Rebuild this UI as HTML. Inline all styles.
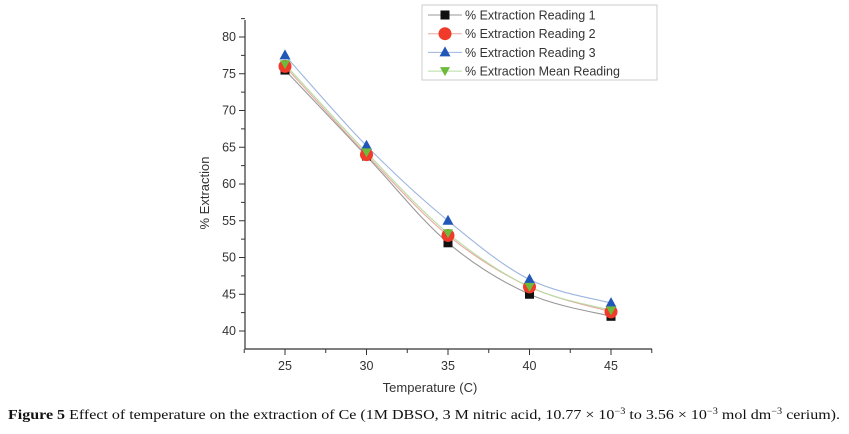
<!DOCTYPE html>
<html><head><meta charset="utf-8"><style>
body{margin:0;background:#fff;width:849px;height:434px;overflow:hidden}
svg{display:block}
</style></head><body>
<svg id="chart" width="849" height="434" font-family="Liberation Sans, sans-serif">
<g id="axes"></g><g id="series"></g><g id="legend"></g>
<text x="430" y="392" font-size="13" text-anchor="middle" fill="#333">Temperature (C)</text>
<text x="0" y="0" font-size="13" text-anchor="middle" fill="#333" transform="translate(209,193) rotate(-90)">% Extraction</text>
<text x="8" y="419" font-size="14" font-family="Liberation Serif, serif" fill="#111" textLength="832" lengthAdjust="spacingAndGlyphs"><tspan font-weight="bold">Figure 5</tspan> Effect of temperature on the extraction of Ce (1M DBSO, 3 M nitric acid, 10.77 × 10<tspan font-size="9" dy="-5">−3</tspan><tspan dy="5"> to 3.56 × 10</tspan><tspan font-size="9" dy="-5">−3</tspan><tspan dy="5"> mol dm</tspan><tspan font-size="9" dy="-5">−3</tspan><tspan dy="5"> cerium).</tspan></text>
</svg>
<script>
const temps=[25,30,35,40,45];
const reading1=[75.5,63.8,52,45,42];
const reading2=[76,64,53,46,42.6];
const reading3=[77.5,65.2,55,47,43.8];
const meanReading=[76.3,64.3,53.3,46,42.8];
const yTicks=[40,45,50,55,60,65,70,75,80];
const xTicks=[25,30,35,40,45];
const NS='http://www.w3.org/2000/svg';
const X=v=>285+(v-25)*16.3;
const Y=v=>331-(v-40)*7.35;
function mk(tag,attrs,parent){const e=document.createElementNS(NS,tag);for(const k in attrs)e.setAttribute(k,attrs[k]);parent.appendChild(e);return e;}
const axes=document.getElementById('axes');
let ya=mk('line',{x1:245,y1:20,x2:245,y2:349,stroke:'#333','stroke-width':1.2},axes);


let xa=mk('line',{x1:245,y1:349,x2:652,y2:349,stroke:'#333','stroke-width':1.2},axes);


yTicks.forEach(t=>{
 mk('line',{x1:239,x2:245,y1:Y(t),y2:Y(t),stroke:'#333'},axes);
 mk('line',{x1:241,x2:245,y1:Y(t+2.5),y2:Y(t+2.5),stroke:'#333'},axes);
 const tx=mk('text',{x:236,y:Y(t)+4,'font-size':12.5,'text-anchor':'end',fill:'#333'},axes);tx.textContent=t;
 
 
});
xTicks.forEach(t=>{
 mk('line',{x1:X(t),x2:X(t),y1:349,y2:355,stroke:'#333'},axes);
 mk('line',{x1:X(t-2.5),x2:X(t-2.5),y1:349,y2:353,stroke:'#333'},axes);
 const tx=mk('text',{x:X(t),y:370,'font-size':12.5,'text-anchor':'middle',fill:'#333'},axes);tx.textContent=t;
 
 
});
mk('line',{x1:X(47.5),x2:X(47.5),y1:349,y2:353,stroke:'#333'},axes);
function spline(xs,ys){
 const p=xs.map((x,i)=>[X(x),Y(ys[i])]);let d='M'+p[0];
 for(let i=0;i<p.length-1;i++){const p0=p[i-1]||p[i],p1=p[i],p2=p[i+1],p3=p[i+2]||p2;
  d+=' C'+(p1[0]+(p2[0]-p0[0])/6)+','+(p1[1]+(p2[1]-p0[1])/6)+' '+(p2[0]-(p3[0]-p1[0])/6)+','+(p2[1]-(p3[1]-p1[1])/6)+' '+p2;}
 return d;}
function marker(g,kind,x,y,col){
 if(kind==='sq')return mk('rect',{x:x-4.5,y:y-4.5,width:9,height:9,fill:col},g);
 if(kind==='ci')return mk('circle',{cx:x,cy:y,r:6.5,fill:col},g);
 if(kind==='up')return mk('polygon',{points:`${x},${y-6} ${x-5.5},${y+4} ${x+5.5},${y+4}`,fill:col},g);
 return mk('polygon',{points:`${x},${y+5} ${x-5},${y-4} ${x+5},${y-4}`,fill:col},g);}
const S=[
 {n:'reading-1',label:'% Extraction Reading 1',v:reading1,k:'sq',c:'#111',lc:'#999'},
 {n:'reading-2',label:'% Extraction Reading 2',v:reading2,k:'ci',c:'#f03a2a',lc:'#e9a9a0'},
 {n:'reading-3',label:'% Extraction Reading 3',v:reading3,k:'up',c:'#2057b8',lc:'#9db5de'},
 {n:'mean-reading',label:'% Extraction Mean Reading',v:meanReading,k:'dn',c:'#6cbb3c',lc:'#b7dca2'}];
const sg=document.getElementById('series');
S.forEach(s=>{const l=mk('path',{d:spline(temps,s.v),fill:'none',stroke:s.lc,'stroke-width':1.1},sg);
 
 });
S.forEach(s=>{temps.forEach((t,i)=>{const m=marker(sg,s.k,X(t),Y(s.v[i]),s.c);
 
 });});
const lg=document.getElementById('legend');
const box=mk('rect',{x:422,y:5,width:235,height:75,fill:'#fff',stroke:'#ccc'},lg);


S.forEach((s,i)=>{const y=15+i*18.7;
 mk('line',{x1:428,x2:462,y1:y,y2:y,stroke:s.lc},lg);
 marker(lg,s.k,445,y,s.c);
 const t=mk('text',{x:465,y:y+4.5,'font-size':12.5,fill:'#333'},lg);t.textContent=s.label;
 
 });
</script>
</body></html>
